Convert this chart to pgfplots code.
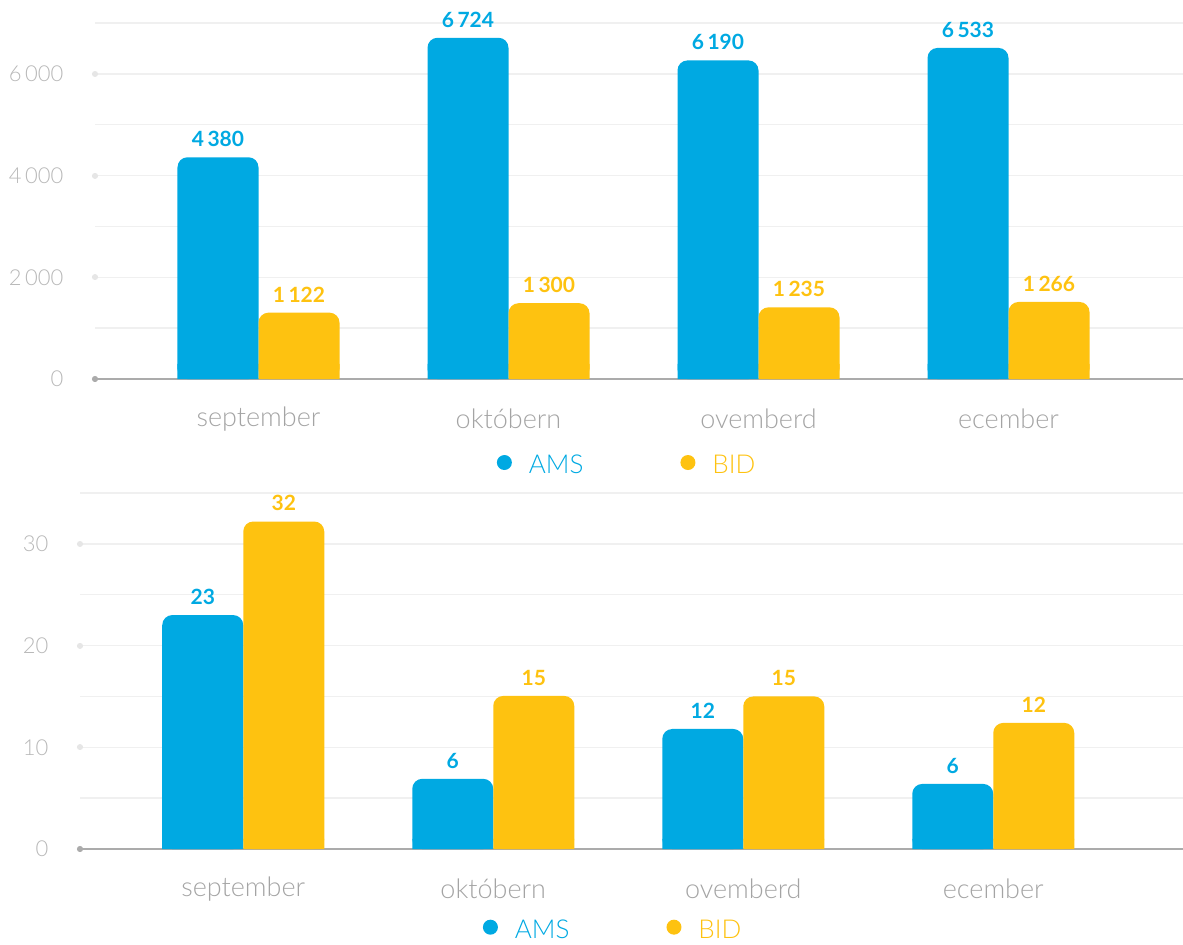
\documentclass[border=0pt]{standalone}
\usepackage{fontspec}
\setmainfont{Lato}
\newfontfamily\light{Lato Light}
\usepackage{pgfplots}
\pgfplotsset{compat=1.18}
\usetikzlibrary{arrows.meta}

\definecolor{amsblue}{HTML}{00A9E2}
\definecolor{bidyellow}{HTML}{FEC210}
\definecolor{gridgray}{HTML}{F0F0F0}
\definecolor{axisgray}{HTML}{ABABAB}
\definecolor{dotgray}{HTML}{E6E6E6}
\definecolor{ticktext}{HTML}{B8B8B8}
\definecolor{cattext}{HTML}{A4A4A4}

\pgfplotsset{
  twobars/.style={
    scale only axis, clip=false,
    ybar, bar width=40.5pt,
    axis x line*=bottom, axis y line*=left,
    y axis line style={draw=none},
    x axis line style={draw=axisgray, line width=0.75pt, {Circle[length=3pt]}-, shorten <=-1.5pt},
    xtick={0,1,2,3},
    xticklabels={september, októbern, ovemberd, ecember},
    xtick style={draw=none},
    xticklabel style={font=\light\fontsize{13.5}{15}\selectfont, text=cattext,
      anchor=center, inner sep=0pt, yshift=-20pt},
    ytick style={draw=dotgray, line width=3pt, line cap=round},
    major tick length=0.1pt, tick align=center,
    yticklabel style={font=\light\fontsize{11}{13}\selectfont, text=ticktext,
      inner sep=0pt, xshift=-15.5pt},
    ymajorgrids,
    major grid style={draw=gridgray, line width=0.75pt},
    extra y tick labels={},
    extra y tick style={ymajorgrids=true, ytick style={draw=none}},
    /pgf/number format/1000 sep={\,},
    /pgf/number format/assume math mode=true,
    legend columns=2,
    legend cell align=left,
    legend style={draw=none, fill=none, anchor=west,
      font=\light\fontsize{13}{15}\selectfont,
      nodes={inner sep=0pt},
      /tikz/every even column/.append style={column sep=48.5pt}},
  },
  labels/.style={point meta=explicit, nodes near coords,
    nodes near coords style={text=#1, font=\bfseries\fontsize{10.5}{12}\selectfont,
      anchor=south, inner sep=0pt, yshift=5pt}},
  dotimage/.style={legend image code/.code={
    \fill[#1] (3.75pt,1.7pt) circle (3.75pt); \path (0pt,0pt) (16pt,0pt);}},
}

\begin{document}
\begin{tikzpicture}
\useasboundingbox (0,0) rectangle (591.5pt,-472pt);

% monthly totals
\begin{axis}[twobars,
  at={(47.5pt,-189.5pt)}, anchor=south west,
  width=544pt, height=178pt,
  xmin=-0.654, xmax=3.698, ymin=0, ymax=7000,
  ytick={0,2000,4000,6000},
  extra y ticks={1000,3000,5000,7000},
  legend style={at={(0.3635,-0.244)}},
]
\addplot[fill=amsblue, draw=none, bar shift=-20.25pt, rounded corners=5pt,
  labels=amsblue, dotimage=amsblue]
  coordinates {(0,4360)[4380] (1,6710)[6724] (2,6265)[6190] (3,6510)[6533]};
\addlegendentry{\textcolor{amsblue}{AMS}}
\addplot[fill=amsblue, draw=none, bar shift=-20.25pt, forget plot]
  coordinates {(0,300) (1,300) (2,300) (3,300)};
\addplot[fill=bidyellow, draw=none, bar shift=20.25pt, rounded corners=5pt,
  labels=bidyellow, dotimage=bidyellow]
  coordinates {(0,1305)[1122] (1,1490)[1300] (2,1410)[1235] (3,1515)[1266]};
\addlegendentry{\textcolor{bidyellow}{BID}}
\addplot[fill=bidyellow, draw=none, bar shift=20.25pt, forget plot]
  coordinates {(0,300) (1,300) (2,300) (3,300)};
\end{axis}

% counts
\begin{axis}[twobars,
  at={(40pt,-424.5pt)}, anchor=south west,
  width=551.5pt, height=178pt,
  xmin=-0.653, xmax=3.759, ymin=0, ymax=35,
  ytick={0,10,20,30},
  extra y ticks={5,15,25,35},
  legend style={at={(0.3595,-0.229)}},
]
\addplot[fill=amsblue, draw=none, bar shift=-20.25pt, rounded corners=5pt,
  labels=amsblue, dotimage=amsblue]
  coordinates {(0,23)[23] (1,6.9)[6] (2,11.8)[12] (3,6.4)[6]};
\addlegendentry{\textcolor{amsblue}{AMS}}
\addplot[fill=amsblue, draw=none, bar shift=-20.25pt, forget plot]
  coordinates {(0,1) (1,1) (2,1) (3,1)};
\addplot[fill=bidyellow, draw=none, bar shift=20.25pt, rounded corners=5pt,
  labels=bidyellow, dotimage=bidyellow]
  coordinates {(0,32.2)[32] (1,15.05)[15] (2,15)[15] (3,12.4)[12]};
\addlegendentry{\textcolor{bidyellow}{BID}}
\addplot[fill=bidyellow, draw=none, bar shift=20.25pt, forget plot]
  coordinates {(0,1) (1,1) (2,1) (3,1)};
\end{axis}
\end{tikzpicture}
\end{document}
